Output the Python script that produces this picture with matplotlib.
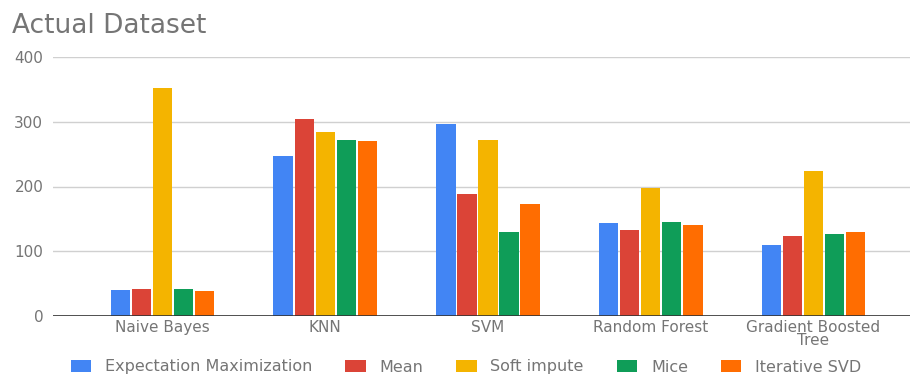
import matplotlib.pyplot as plt
import numpy as np

plt.rcParams['font.family'] = ['DejaVu Sans']

models = ['Naive Bayes', 'KNN', 'SVM', 'Random Forest', 'Gradient Boosted\nTree']
methods = ['Expectation Maximization', 'Mean', 'Soft impute', 'Mice', 'Iterative SVD']
em = [40, 247, 297, 143, 110]
mean = [42, 305, 188, 133, 123]
soft_impute = [352, 284, 272, 198, 224]
mice = [42, 272, 129, 145, 126]
iterative_svd = [39, 271, 173, 140, 129]
colors = ['#4285F4', '#DB4437', '#F4B400', '#0F9D58', '#FF6D01']

series = [em, mean, soft_impute, mice, iterative_svd]

fig = plt.figure(figsize=(9.1, 3.76), dpi=100)
ax = fig.add_axes([53 / 910, 1 - 316 / 376, 1 - 53 / 910, (316 - 57) / 376])

x = np.arange(len(models))
step = 0.1296
width = 0.119
for i, (vals, name, c) in enumerate(zip(series, methods, colors)):
    ax.bar(x + (i - 2) * step, vals, width, color=c, label=name, zorder=3)

ax.set_xlim(-0.674, 4.594)
ax.set_ylim(0, 400)
ax.set_yticks([0, 100, 200, 300, 400])
ax.set_xticks(x)
ax.set_xticklabels(models, linespacing=0.85)
ax.grid(axis='y', color='#d0d0d0', lw=1, zorder=0)
ax.axhline(0, color='#333333', lw=1.2, zorder=4)
for s in ax.spines.values():
    s.set_visible(False)
ax.tick_params(axis='y', length=0, pad=7, labelsize=11, labelcolor='#757575')
ax.tick_params(axis='x', length=0, pad=3, labelsize=11, labelcolor='#757575')

fig.text(12 / 910, 1 - 33 / 376, 'Actual Dataset', fontsize=19, color='#757575',
         va='baseline', ha='left')

leg = fig.legend(loc='center', bbox_to_anchor=(466 / 910, 1 - 367 / 376), ncol=5,
                 frameon=False, fontsize=11.5, handlelength=1.3, handleheight=0.75,
                 handletextpad=0.85, columnspacing=2.05, borderaxespad=0)
for t in leg.get_texts():
    t.set_color('#757575')

plt.savefig('out.png', dpi=100)
